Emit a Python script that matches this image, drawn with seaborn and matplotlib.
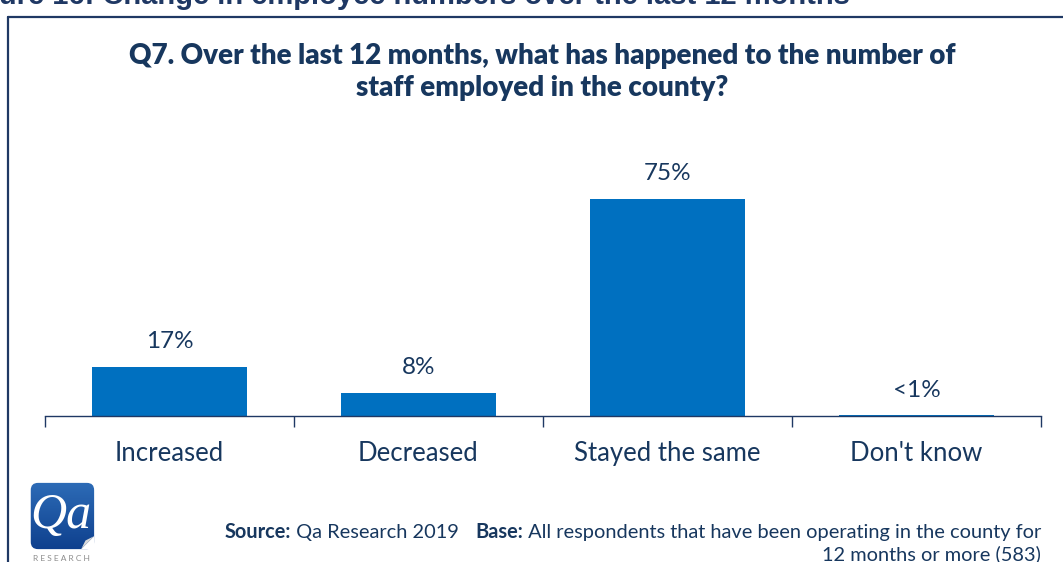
import numpy as np
import pandas as pd
import matplotlib
matplotlib.use("Agg")
import matplotlib.pyplot as plt
import seaborn as sns
from matplotlib.patches import FancyBboxPatch, Polygon
from matplotlib.lines import Line2D
from matplotlib.colors import LinearSegmentedColormap

# Survey responses (percentage of respondents)
categories = ["Increased", "Decreased", "Stayed the same", "Don't know"]
values = [17, 8, 75, 0.3]
value_labels = ["17%", "8%", "75%", "<1%"]

figure_title = "Figure 16: Change in employee numbers over the last 12 months"
question = ("Q7. Over the last 12 months, what has happened to the number of\n"
            "staff employed in the county?")
source_bold = "Source:"
source_text = " Qa Research 2019"
base_bold = "Base:"
base_text = " All respondents that have been operating in the county for"
base_text2 = "12 months or more (583)"

NAVY = "#17375E"
FRAME = "#1F3864"
BAR = "#0070C0"

sns.set_theme(style="white")
plt.rcParams["font.family"] = ["Lato", "DejaVu Sans"]

W, H = 1063, 562
fig = plt.figure(figsize=(W / 100, H / 100), dpi=100)
fig.patch.set_facecolor("white")


def fx(px):
    return px / W


def fy(py):
    return 1 - py / H


# Chart axes
ax = fig.add_axes([fx(45), fy(416), fx(1041) - fx(45), fy(184) - fy(416)])
df = pd.DataFrame({"category": categories, "value": values})
sns.barplot(data=df, x="category", y="value", color=BAR, width=0.62,
            saturation=1, ax=ax, edgecolor="none")
ax.set_ylim(0, 80)
ax.set_xlim(-0.5, len(categories) - 0.5)
ax.set_xlabel("")
ax.set_ylabel("")
ax.set_yticks([])
for s in ["top", "right", "left"]:
    ax.spines[s].set_visible(False)
ax.spines["bottom"].set_color(FRAME)
ax.spines["bottom"].set_linewidth(1.0)
ax.set_xticks(range(len(categories)))
ax.set_xticklabels(categories, fontsize=18.5, color=NAVY)
ax.tick_params(axis="x", which="major", length=0, pad=18)
ax.set_xticks(np.arange(-0.5, len(categories)), minor=True)
ax.tick_params(axis="x", which="minor", length=8, width=1.0, color=FRAME,
               direction="out", bottom=True)
ax.patch.set_alpha(0)

for i, (v, lab) in enumerate(zip(values, value_labels)):
    ax.text(i, v + 5, lab, ha="center", va="bottom", fontsize=17.5,
            color=NAVY)

# Question title
fig.text(fx(542), fy(72), question, ha="center", va="center", fontsize=20,
         fontweight="heavy", color=NAVY, linespacing=1.25)

# Figure caption at the very top
fig.text(fx(850), fy(4), figure_title, ha="right", va="baseline",
         fontsize=21, fontweight="bold", color=FRAME,
         family=["Liberation Sans", "DejaVu Sans"])

# Frame around the chart
fig.add_artist(Line2D([fx(8), fx(8)], [fy(17), fy(H + 5)], color=FRAME,
                      lw=1.6, transform=fig.transFigure))
fig.add_artist(Line2D([fx(8), fx(W + 5)], [fy(17), fy(17)], color=FRAME,
                      lw=1.6, transform=fig.transFigure))

# Source / base footnote, composed right to left
renderer = fig.canvas.get_renderer()


def right_text(x_px, y_px, s, bold=False):
    t = fig.text(fx(x_px), fy(y_px), s, ha="right", va="baseline",
                 fontsize=14.4, color=NAVY,
                 fontweight="bold" if bold else "normal")
    bb = t.get_window_extent(renderer=renderer)
    return bb.x0


x = right_text(1041, 538, base_text)
x = right_text(x, 538, base_bold, bold=True)
x = right_text(x - 16, 538, source_text)
x = right_text(x, 538, source_bold, bold=True)
right_text(1041, 560, base_text2)

# Logo
lax = fig.add_axes([fx(25), fy(552), fx(97) - fx(25), fy(480) - fy(552)])
lax.set_xlim(0, 1)
lax.set_ylim(0, 1)
lax.axis("off")
grad = np.linspace(0, 1, 256).reshape(-1, 1)
cmap = LinearSegmentedColormap.from_list("logo", ["#0D3E8C", "#2E6DB8"])
im = lax.imshow(grad, extent=[0, 1, 0, 1], cmap=cmap, aspect="auto",
                origin="lower")
box = FancyBboxPatch((0.08, 0.04), 0.88, 0.92,
                     boxstyle="round,pad=0,rounding_size=0.1",
                     transform=lax.transAxes, facecolor="none",
                     edgecolor="none")
lax.add_patch(box)
im.set_clip_path(box)
lax.add_patch(Polygon([[0.96, 0.04], [0.78, 0.04], [0.96, 0.22]],
                      closed=True, facecolor="white", edgecolor="none"))
lax.add_patch(Polygon([[0.78, 0.04], [0.96, 0.22], [0.84, 0.16]],
                      closed=True, facecolor="#D9D9D9", edgecolor="none"))
lax.text(0.5, 0.5, "Qa", ha="center", va="center", fontsize=36,
         color="white", style="italic",
         family=["Liberation Serif", "DejaVu Serif"])
fig.text(fx(61), fy(561), "R E S E A R C H", ha="center", va="baseline",
         fontsize=6, color="#8C8C8C")

fig.savefig("out.png", dpi=100)
